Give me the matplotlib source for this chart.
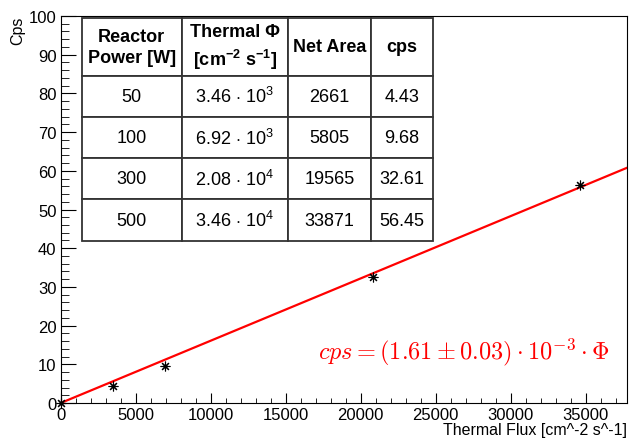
import numpy as np
import matplotlib.pyplot as plt
from matplotlib.ticker import MultipleLocator

# === DATA ===
power_w = ["50", "100", "300", "500"]
flux_txt = ["3.46 $\\cdot$ 10$^3$", "6.92 $\\cdot$ 10$^3$", "2.08 $\\cdot$ 10$^4$", "3.46 $\\cdot$ 10$^4$"]
net_area = ["2661", "5805", "19565", "33871"]
cps_txt = ["4.43", "9.68", "32.61", "56.45"]

flux = [0, 3460, 6920, 20800, 34600]
cps = [0, 4.43, 9.68, 32.61, 56.45]
slope = 1.61e-3

# === STYLE ===
plt.rcParams["font.family"] = ["Liberation Sans", "DejaVu Sans"]
plt.rcParams["mathtext.fontset"] = "custom"
plt.rcParams["mathtext.rm"] = "Liberation Sans"
plt.rcParams["mathtext.bf"] = "Liberation Sans:bold"

fig = plt.figure(figsize=(6.29, 4.39), dpi=100)
ax = fig.add_axes([0.0965, 0.0797, 0.9003, 0.8816])

xmax = 37750
x_fit = np.array([0, xmax])
ax.plot(x_fit, slope * x_fit, color="red", linewidth=1.6, zorder=2)
ax.plot(flux, cps, linestyle="none", marker=(8, 2, 0), markersize=7,
        markeredgewidth=0.8, color="black", zorder=3, clip_on=False)

ax.set_xlim(0, xmax)
ax.set_ylim(0, 100)
ax.xaxis.set_major_locator(MultipleLocator(5000))
ax.xaxis.set_minor_locator(MultipleLocator(1000))
ax.yaxis.set_major_locator(MultipleLocator(10))
ax.yaxis.set_minor_locator(MultipleLocator(2))
ax.tick_params(which="both", direction="in", top=False, right=False, labelsize=12)
ax.tick_params(axis="x", which="major", length=7, pad=3)
ax.tick_params(axis="x", which="minor", length=3.5)
ax.tick_params(axis="y", which="major", length=11, pad=3)
ax.tick_params(axis="y", which="minor", length=5.5)

ax.set_xlabel("Thermal Flux [cm^-2 s^-1]", fontsize=11.5, loc="right", labelpad=0)
ax.set_ylabel("Cps", fontsize=11.5, loc="top")
ax.yaxis.set_label_coords(-0.062, 1.0)

# fit result
ax.text(0.454, 0.134, r"$cps = (1.61 \pm 0.03) \cdot 10^{-3} \cdot \Phi$",
        transform=ax.transAxes, color="red", fontsize=17.5, va="center", ha="left",
        math_fontfamily="cm")

# === TABLE ===
header = ["Reactor\nPower [W]", "Thermal \u03a6\n[cm$^{\\mathbf{-2}}$ s$^{\\mathbf{-1}}$]", "Net Area", "cps"]
rows = [list(r) for r in zip(power_w, flux_txt, net_area, cps_txt)]
col_w = [100, 106, 83.3, 61.3]
tab = ax.table(cellText=rows, colLabels=header, colWidths=[w / sum(col_w) for w in col_w],
               cellLoc="center", bbox=[0.0371, 0.4194, 0.6196, 0.5754], zorder=4)
tab.auto_set_font_size(False)
for (r, c), cell in tab.get_celld().items():
    cell.set_edgecolor("#333333")
    cell.set_linewidth(1.3)
    cell.set_height(1.4 if r == 0 else 1.0)
    txt = cell.get_text()
    txt.set_fontsize(13)
    if r == 0:
        txt.set_fontweight("bold")
        txt.set_linespacing(1.35)

plt.savefig("out.png", dpi=100)
